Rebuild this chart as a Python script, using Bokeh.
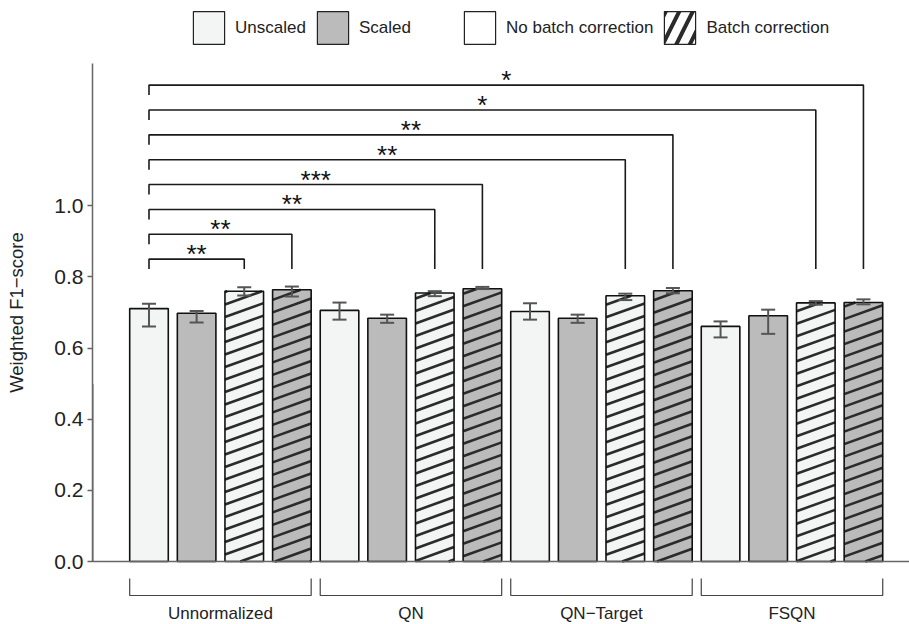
import math
from bokeh.plotting import figure
from bokeh.models import (ColumnDataSource, Range1d, FixedTicker, PrintfTickFormatter,
                          Span, Whisker, TeeHead, Legend, LegendItem)
from bokeh.core.properties import value
from bokeh.embed import file_html
from bokeh.resources import INLINE

# ---------------- data ----------------
groups = ["Unnormalized", "QN", "QN\u2212Target", "FSQN"]
conditions = ["Unscaled / No batch", "Scaled / No batch", "Unscaled / Batch", "Scaled / Batch"]

f1_mean = [
    [0.711, 0.698, 0.760, 0.764],
    [0.706, 0.684, 0.755, 0.767],
    [0.703, 0.684, 0.747, 0.761],
    [0.661, 0.691, 0.727, 0.728],
]
f1_upper = [
    [0.725, 0.704, 0.771, 0.773],
    [0.728, 0.694, 0.760, 0.772],
    [0.726, 0.694, 0.753, 0.769],
    [0.675, 0.708, 0.732, 0.737],
]
f1_lower = [
    [0.661, 0.672, 0.748, 0.745],
    [0.680, 0.671, 0.746, 0.766],
    [0.680, 0.671, 0.735, 0.754],
    [0.630, 0.640, 0.722, 0.723],
]
# significance comparisons: bar 1 vs target bar (1-based bar index)
sig_targets = [3, 4, 7, 8, 11, 12, 15, 16]
sig_labels = ["**", "**", "**", "***", "**", "**", "*", "*"]
y_ticks = [0.0, 0.2, 0.4, 0.6, 0.8, 1.0]

# ---------------- styling / layout ----------------
FONT = "Liberation Sans"
UNSCALED = "#f3f5f4"
SCALED = "#bbbbbb"
BAR_W = 0.81
W, H = 909, 624
LEFT = 92
X0, X1 = -0.186, 16.967
Y0, Y1 = -0.1771, 1.5772
cond_fill = [UNSCALED, SCALED, UNSCALED, SCALED]
cond_hatched = [False, False, True, True]

xs, tops, ups, lows, fills = [], [], [], [], []
hx, htop = [], []
for g in range(len(groups)):
    for c in range(len(conditions)):
        x = 1 + 4 * g + c
        xs.append(x)
        tops.append(f1_mean[g][c])
        ups.append(f1_upper[g][c])
        lows.append(f1_lower[g][c])
        fills.append(cond_fill[c])
        if cond_hatched[c]:
            hx.append(x)
            htop.append(f1_mean[g][c])

src = ColumnDataSource(dict(x=xs, top=tops, upper=ups, lower=lows, fill=fills))

p = figure(width=W, height=H, output_backend="svg", toolbar_location=None,
           x_range=Range1d(X0, X1), y_range=Range1d(Y0, Y1),
           x_axis_location=None, min_border_left=LEFT, min_border_right=0,
           min_border_top=0, min_border_bottom=0)
p.outline_line_color = None
p.grid.visible = False
p.background_fill_color = "white"
p.border_fill_color = "white"

# bar fills
p.vbar(x="x", top="top", width=BAR_W, bottom=0, source=src, fill_color="fill",
       line_color=None)

# hatch lines (shallow diagonal), clipped to the hatched bars
px_x = (W - LEFT) / (X1 - X0)
px_y = H / (Y1 - Y0)
k = 0.36 * px_x / px_y          # data-y per data-x
dc = 12.5 / px_y                # vertical spacing in data units
sx0, sy0, sx1, sy1 = [], [], [], []
for xc, top in zip(hx, htop):
    xl, xr = xc - BAR_W / 2, xc + BAR_W / 2
    n_lo = math.floor((0 - k * xr) / dc) - 1
    n_hi = math.ceil((top - k * xl) / dc) + 1
    for n in range(n_lo, n_hi + 1):
        c0 = n * dc
        xa = max(xl, -c0 / k)
        xb = min(xr, (top - c0) / k)
        if xb - xa > 1e-6:
            sx0.append(xa); sy0.append(c0 + k * xa)
            sx1.append(xb); sy1.append(c0 + k * xb)
p.segment(x0=sx0, y0=sy0, x1=sx1, y1=sy1, line_color="#2b2b2b", line_width=2.6)

# bar outlines on top
p.vbar(x="x", top="top", width=BAR_W, bottom=0, source=src, fill_color=None,
       line_color="#111111", line_width=1.6)

wh = Whisker(source=src, base="x", upper="upper", lower="lower",
             line_color="#555555", line_width=2, level="annotation",
             upper_head=TeeHead(size=14, line_color="#555555", line_width=2),
             lower_head=TeeHead(size=14, line_color="#555555", line_width=2))
p.add_layout(wh)

# baseline at 0
p.add_layout(Span(location=0, dimension="width", line_color="#666666", line_width=1.5))

# y axis
ax = p.yaxis[0]
ax.bounds = (0, 1.4)
ax.ticker = FixedTicker(ticks=y_ticks)
ax.formatter = PrintfTickFormatter(format="%.1f")
ax.minor_tick_line_color = None
ax.axis_line_color = "#666666"
ax.axis_line_width = 1.5
ax.major_tick_line_color = "#666666"
ax.major_tick_line_width = 1.5
ax.major_tick_out = 5
ax.major_tick_in = 0
ax.major_label_standoff = 4
ax.major_label_text_font = FONT
ax.major_label_text_font_size = "21px"
ax.major_label_text_color = "#222222"
ax.axis_label = "Weighted F1\u2212score"
ax.axis_label_text_font = FONT
ax.axis_label_text_font_size = "18.5px"
ax.axis_label_text_font_style = "normal"
ax.axis_label_text_color = "#222222"
ax.axis_label_standoff = 24

# significance brackets
level0, step, tip, leg_bottom = 0.850, 0.0699, 0.028, 0.822
bx, by, tx, ty = [], [], [], []
for i, t in enumerate(sig_targets):
    lvl = level0 + i * step
    bx.append([1, 1, t, t])
    by.append([lvl - tip, lvl, lvl, leg_bottom])
    tx.append((1 + t) / 2)
    ty.append(lvl + 0.0141)
p.multi_line(bx, by, line_color="#1a1a1a", line_width=1.6)
p.text(x=tx, y=ty, text=sig_labels, text_align="center", text_baseline="alphabetic",
       text_font=value(FONT), text_font_size="26px", text_color="#111111")

# group brackets under axis
gx, gy, lx, ly = [], [], [], []
for g in range(len(groups)):
    x0 = 1 + 4 * g - BAR_W / 2
    x1 = 4 + 4 * g + BAR_W / 2
    gx.append([x0, x0, x1, x1])
    gy.append([-0.0478, -0.0956, -0.0956, -0.0478])
    lx.append(2.5 + 4 * g)
    ly.append(-0.146)
p.multi_line(gx, gy, line_color="#444444", line_width=1.2)
p.text(x=lx, y=ly, text=groups, text_align="center", text_baseline="middle",
       text_font=value(FONT), text_font_size="17px", text_color="#222222")

# legend swatches: renderers whose single point lies outside the visible range
off = [X0 - 50]
r_un = p.vbar(x=off, top=[0.5], width=0.5, fill_color=UNSCALED, line_color="#222222", line_width=1.2)
r_sc = p.vbar(x=off, top=[0.5], width=0.5, fill_color=SCALED, line_color="#222222", line_width=1.2)
r_nb = p.vbar(x=off, top=[0.5], width=0.5, fill_color="white", line_color="#222222", line_width=1.2)
r_bc = p.vbar(x=off, top=[0.5], width=0.5, fill_color="white", line_color="#222222", line_width=1.2,
              hatch_pattern="/", hatch_color="#2b2b2b", hatch_weight=4, hatch_scale=27)

def make_legend(items, loc):
    return Legend(items=items, location=loc, orientation="horizontal",
                  glyph_width=39, glyph_height=41, label_standoff=7, spacing=7,
                  padding=0, margin=0, border_line_color=None, background_fill_alpha=0,
                  label_text_font=FONT, label_text_font_size="17px",
                  label_text_color="#222222")

leg1 = make_legend([LegendItem(label="Unscaled", renderers=[r_un]),
                    LegendItem(label="Scaled", renderers=[r_sc])], (97, 576))
leg2 = make_legend([LegendItem(label="No batch correction", renderers=[r_nb]),
                    LegendItem(label="Batch correction", renderers=[r_bc])], (368, 576))
p.add_layout(leg1)
p.add_layout(leg2)

open("out.html", "w").write(file_html(p, INLINE))
